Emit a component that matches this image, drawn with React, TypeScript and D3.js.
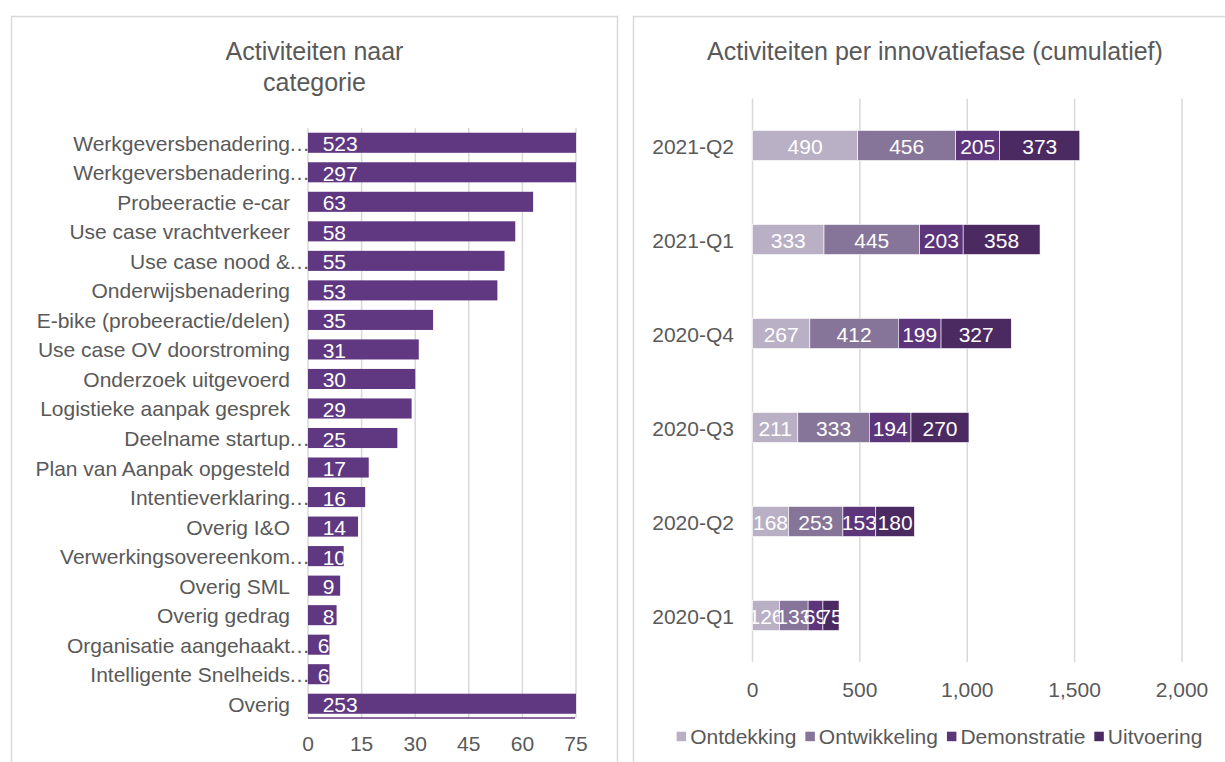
import React, { useEffect, useRef } from "react";
import * as d3 from "d3";

const leftCategories = [
  "Werkgeversbenadering…",
  "Werkgeversbenadering…",
  "Probeeractie e-car",
  "Use case vrachtverkeer",
  "Use case nood &…",
  "Onderwijsbenadering",
  "E-bike (probeeractie/delen)",
  "Use case OV doorstroming",
  "Onderzoek uitgevoerd",
  "Logistieke aanpak gesprek",
  "Deelname startup…",
  "Plan van Aanpak opgesteld",
  "Intentieverklaring…",
  "Overig I&O",
  "Verwerkingsovereenkom…",
  "Overig SML",
  "Overig gedrag",
  "Organisatie aangehaakt…",
  "Intelligente Snelheids…",
  "Overig",
];
const leftValues = [523, 297, 63, 58, 55, 53, 35, 31, 30, 29, 25, 17, 16, 14, 10, 9, 8, 6, 6, 253];
const leftTicks = [0, 15, 30, 45, 60, 75];
const leftTitle = ["Activiteiten naar", "categorie"];

const quarters = ["2021-Q2", "2021-Q1", "2020-Q4", "2020-Q3", "2020-Q2", "2020-Q1"];
const phases = ["Ontdekking", "Ontwikkeling", "Demonstratie", "Uitvoering"];
const ontdekking = [490, 333, 267, 211, 168, 126];
const ontwikkeling = [456, 445, 412, 333, 253, 133];
const demonstratie = [205, 203, 199, 194, 153, 69];
const uitvoering = [373, 358, 327, 270, 180, 75];
const rightTicks = [0, 500, 1000, 1500, 2000];
const rightTitle = "Activiteiten per innovatiefase (cumulatief)";

const phaseColors = ["#b9b0c6", "#867598", "#5d357a", "#4b2a62"];
const barColor = "#603881";
const textColor = "#595959";
const gridColor = "#d9d9d9";
const FONT = "'Liberation Sans', Arial, Helvetica, sans-serif";

export default function App() {
  const ref = useRef<SVGSVGElement>(null);

  useEffect(() => {
    const svg = d3.select(ref.current);
    svg.selectAll("*").remove();
    svg.style("font-family", FONT);
    const defs = svg.append("defs");

    // panels
    svg.append("rect").attr("x", 11.5).attr("y", 16.5).attr("width", 606).attr("height", 800)
      .attr("fill", "#fff").attr("stroke", gridColor).attr("stroke-width", 1.5);
    svg.append("rect").attr("x", 633.5).attr("y", 16.5).attr("width", 604).attr("height", 800)
      .attr("fill", "#fff").attr("stroke", gridColor).attr("stroke-width", 1.5);

    // ---------- LEFT CHART ----------
    const lx = d3.scaleLinear().domain([0, 75]).range([308, 576]);
    const ly = d3.scaleBand<number>().domain(d3.range(leftValues.length))
      .range([128, 718.5]).paddingInner(0.32).paddingOuter(0.16);
    const L = svg.append("g");

    L.selectAll("text.title").data(leftTitle).enter().append("text")
      .attr("x", 314.5).attr("y", (_, i) => 60 + i * 31)
      .attr("text-anchor", "middle").attr("font-size", 25).attr("fill", textColor)
      .text((d) => d);

    L.selectAll("line.grid").data(leftTicks).enter().append("line")
      .attr("x1", (d) => lx(d)).attr("x2", (d) => lx(d))
      .attr("y1", 128).attr("y2", 718)
      .attr("stroke", gridColor).attr("stroke-width", 1.5);

    L.selectAll("text.tick").data(leftTicks).enter().append("text")
      .attr("x", (d) => lx(d)).attr("y", 750.5)
      .attr("text-anchor", "middle").attr("font-size", 21).attr("fill", textColor)
      .text((d) => String(d));

    leftCategories.forEach((c, i) => {
      const cy = (ly(i) as number) + ly.bandwidth() / 2;
      const trunc = c.endsWith("…");
      const main = trunc ? c.slice(0, -1) : c;
      L.append("text").attr("x", 290).attr("y", cy + 8)
        .attr("text-anchor", "end").attr("font-size", 21).attr("fill", textColor).text(main);
      if (trunc) {
        L.append("text").attr("x", 289).attr("y", cy + 8)
          .attr("text-anchor", "start").attr("font-size", 21).attr("fill", textColor).text("…");
      }
    });

    leftValues.forEach((v, i) => {
      const y0 = ly(i) as number;
      const x0 = lx(0);
      const x1 = lx(Math.min(v, 75));
      L.append("rect").attr("x", x0).attr("y", y0).attr("width", x1 - x0)
        .attr("height", ly.bandwidth()).attr("fill", barColor);
      const cid = "lclip" + i;
      defs.append("clipPath").attr("id", cid).append("rect")
        .attr("x", x0).attr("y", y0 - 4).attr("width", x1 - x0).attr("height", ly.bandwidth() + 8);
      const t = L.append("text").attr("y", y0 + ly.bandwidth() / 2 + 8.5)
        .attr("font-size", 21).attr("fill", "#fff").attr("clip-path", `url(#${cid})`)
        .text(String(v));
      const tw = (t.node() as SVGTextElement).getComputedTextLength();
      let tx = x0 + 14.7;
      if (tx + tw > x1 && tw < 15) tx = Math.max(x0, x1 - tw);
      t.attr("x", tx);
    });

    L.append("line").attr("x1", lx(0)).attr("x2", lx(75) - 1).attr("y1", 718).attr("y2", 718)
      .attr("stroke", barColor).attr("stroke-width", 1.5);

    // ---------- RIGHT CHART ----------
    const rx = d3.scaleLinear().domain([0, 2000]).range([752.5, 1182]);
    const ry = d3.scaleBand<string>().domain(quarters).range([98.5, 662.5])
      .paddingInner(0.68).paddingOuter(0.34);
    const R = svg.append("g");

    R.append("text").attr("x", 935).attr("y", 60).attr("text-anchor", "middle")
      .attr("font-size", 25).attr("fill", textColor).text(rightTitle);

    R.selectAll("line.grid").data(rightTicks).enter().append("line")
      .attr("x1", (d) => rx(d)).attr("x2", (d) => rx(d))
      .attr("y1", 98.5).attr("y2", 662)
      .attr("stroke", gridColor).attr("stroke-width", 1.5);

    const fmt = d3.format(",");
    R.selectAll("text.tick").data(rightTicks).enter().append("text")
      .attr("x", (d) => rx(d)).attr("y", 697)
      .attr("text-anchor", "middle").attr("font-size", 21).attr("fill", textColor)
      .text((d) => fmt(d));

    R.selectAll("text.cat").data(quarters).enter().append("text")
      .attr("x", 734).attr("y", (d) => (ry(d) as number) + ry.bandwidth() / 2 + 8)
      .attr("text-anchor", "end").attr("font-size", 21).attr("fill", textColor)
      .text((d) => d);

    const series = [ontdekking, ontwikkeling, demonstratie, uitvoering];
    const rows = quarters.map((q, i) => {
      const o: any = { q };
      phases.forEach((p, k) => (o[p] = series[k][i]));
      return o;
    });
    const stacked = d3.stack<any>().keys(phases)(rows);

    defs.append("clipPath").attr("id", "rclip").append("rect")
      .attr("x", 752.5).attr("y", 90).attr("width", 480).attr("height", 580);

    stacked.forEach((s, k) => {
      const g = R.append("g");
      g.selectAll("rect").data(s).enter().append("rect")
        .attr("x", (d) => rx(d[0])).attr("width", (d) => rx(d[1]) - rx(d[0]))
        .attr("y", (d) => ry(d.data.q) as number).attr("height", ry.bandwidth())
        .attr("fill", phaseColors[k]).attr("stroke", "#fff").attr("stroke-width", 0.6);
      g.selectAll("text").data(s).enter().append("text")
        .attr("x", (d) => (rx(d[0]) + rx(d[1])) / 2)
        .attr("y", (d) => (ry(d.data.q) as number) + ry.bandwidth() / 2 + 8.5)
        .attr("text-anchor", "middle").attr("font-size", 21).attr("fill", "#fff")
        .attr("clip-path", "url(#rclip)")
        .text((d) => String(d[1] - d[0]));
    });

    // legend
    const lg = R.append("g");
    let cur = 0;
    const items: { x: number; w: number }[] = [];
    phases.forEach((p, k) => {
      const it = lg.append("g");
      it.append("rect").attr("x", 0).attr("y", 731.7).attr("width", 9.5).attr("height", 9.5)
        .attr("fill", phaseColors[k]);
      const t = it.append("text").attr("x", 13.5).attr("y", 743.8).attr("font-size", 21)
        .attr("fill", textColor).text(p);
      const w = 13.5 + (t.node() as SVGTextElement).getComputedTextLength();
      items.push({ x: cur, w });
      it.attr("transform", `translate(${cur},0)`);
      cur += w + 9;
    });
    const total = cur - 9;
    lg.attr("transform", `translate(${939.5 - total / 2},0)`);
  }, []);

  return (
    <div style={{ position: "absolute", left: 0, top: 0 }}>
      <svg ref={ref} width={1225} height={762} />
    </div>
  );
}
